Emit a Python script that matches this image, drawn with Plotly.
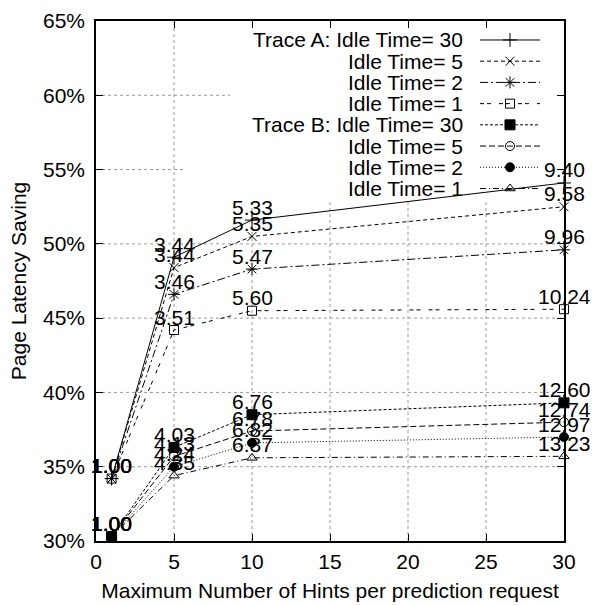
import plotly.graph_objects as go

# ---------------- data ----------------
hints = [1, 5, 10, 30]

traceA_idle30 = [34.2, 49.1, 51.6, 54.1]
traceA_idle5 = [34.2, 48.4, 50.5, 52.5]
traceA_idle2 = [34.2, 46.6, 48.3, 49.6]
traceA_idle1 = [34.2, 44.2, 45.5, 45.6]
traceB_idle30 = [30.3, 36.3, 38.5, 39.3]
traceB_idle5 = [30.3, 35.7, 37.4, 38.0]
traceB_idle2 = [30.3, 35.0, 36.6, 37.0]
traceB_idle1 = [30.3, 34.4, 35.6, 35.7]

labA30 = ["1.00", "3.44", "5.33", "9.40"]
labA5 = ["1.00", "3.44", "5.35", "9.58"]
labA2 = ["1.00", "3.46", "5.47", "9.96"]
labA1 = ["1.00", "3.51", "5.60", "10.24"]
labB30 = ["1.00", "4.03", "6.76", "12.60"]
labB5 = ["1.00", "4.13", "6.78", "12.74"]
labB2 = ["1.00", "4.24", "6.82", "12.97"]
labB1 = ["1.00", "4.35", "6.87", "13.23"]

series_names = [
    "Trace A: Idle Time= 30", "Idle Time= 5", "Idle Time= 2", "Idle Time= 1",
    "Trace B: Idle Time= 30", "Idle Time= 5", "Idle Time= 2", "Idle Time= 1",
]

x_ticks = [0, 5, 10, 15, 20, 25, 30]
y_ticks = [30, 35, 40, 45, 50, 55, 60, 65]
y_tick_text = ["30%", "35%", "40%", "45%", "50%", "55%", "60%", "65%"]

x_title = "Maximum Number of Hints per prediction request"
y_title = "Page Latency Saving"

# ---------------- styles ----------------
FONT = "Liberation Sans, Arial, Helvetica, sans-serif"
FS = 21

values = [traceA_idle30, traceA_idle5, traceA_idle2, traceA_idle1,
          traceB_idle30, traceB_idle5, traceB_idle2, traceB_idle1]
labels = [labA30, labA5, labA2, labA1, labB30, labB5, labB2, labB1]
dashes = ["solid", "4px,3px", "8px,3px,2px,3px", "4px,3px,4px,8px",
          "3px,2px", "6px,3px", "1px,2px", "6px,3px,1px,3px"]
symbols = ["cross-thin-open", "x-thin-open", "asterisk-open", "square-open",
           "square", "circle-open", "circle", "triangle-up-open"]
sizes = [10, 9, 10, 9, 10, 9, 9, 9]

fig = go.Figure()

# grid lines (partially hidden where the key sits)
grid_style = dict(color="#999999", width=1, dash="dot")
y_grid_end = {55: 5.77, 60: 8.6}
for yv in y_ticks[1:-1]:
    fig.add_shape(type="line", xref="x", yref="y", x0=0, x1=y_grid_end.get(yv, 30),
                  y0=yv, y1=yv, line=grid_style, layer="below")
for xv in x_ticks[1:-1]:
    top = 65 if xv == 5 else 52.95
    fig.add_shape(type="line", xref="x", yref="y", x0=xv, x1=xv,
                  y0=30, y1=top, line=grid_style, layer="below")

for vals, labs, dash, sym, sz in zip(values, labels, dashes, symbols, sizes):
    fig.add_trace(go.Scatter(
        x=hints, y=vals, mode="lines+markers", showlegend=False, cliponaxis=False,
        line=dict(color="black", width=1, dash=dash),
        marker=dict(symbol=sym, size=sz, color="black",
                    line=dict(color="black", width=1)),
    ))
    for xv, yv, t in zip(hints, vals, labs):
        fig.add_annotation(x=xv, y=yv, text=t, showarrow=False, yshift=13,
                           font=dict(family=FONT, size=FS, color="black"))

# custom key: right-aligned text, sample line with marker to the right
key_text_x = 0.7885
key_x0, key_xm, key_x1 = 0.8205, 0.8846, 0.9487
key_y0, key_dy = 0.9635, 0.0408
for i, (name, dash, sym, sz) in enumerate(zip(series_names, dashes, symbols, sizes)):
    ry = key_y0 - i * key_dy
    fig.add_trace(go.Scatter(
        x=[key_x0, key_x1], y=[ry, ry], xaxis="x2", yaxis="y2", mode="lines",
        showlegend=False, hoverinfo="skip",
        line=dict(color="black", width=1, dash=dash)))
    fig.add_trace(go.Scatter(
        x=[key_xm], y=[ry], xaxis="x2", yaxis="y2", mode="markers",
        showlegend=False, hoverinfo="skip",
        marker=dict(symbol=sym, size=sz, color="black",
                    line=dict(color="black", width=1))))
    fig.add_annotation(xref="paper", yref="paper", x=key_text_x, y=ry,
                       xanchor="right", yanchor="middle", text=name, showarrow=False,
                       font=dict(family=FONT, size=FS, color="black"))

axis_common = dict(
    showline=True, linecolor="black", linewidth=1.5, mirror="ticks",
    ticks="inside", ticklen=7, tickwidth=1, tickcolor="black",
    showgrid=False, zeroline=False, automargin=False,
    tickfont=dict(family=FONT, size=FS, color="black"),
)

fig.update_layout(
    width=592, height=605,
    margin=dict(l=96, r=28, t=21, b=64),
    paper_bgcolor="white", plot_bgcolor="white",
    font=dict(family=FONT, size=FS, color="black"),
    xaxis=dict(range=[0, 30], tickvals=x_ticks, ticklabelstandoff=1,
               title=dict(text=x_title, standoff=11,
                          font=dict(family=FONT, size=FS, color="black")),
               **axis_common),
    yaxis=dict(range=[30, 65], tickvals=y_ticks, ticktext=y_tick_text,
               ticklabelstandoff=5,
               title=dict(text=y_title, standoff=11,
                          font=dict(family=FONT, size=FS, color="black")),
               **axis_common),
    xaxis2=dict(overlaying="x", range=[0, 1], visible=False),
    yaxis2=dict(overlaying="y", range=[0, 1], visible=False),
)

fig.write_html("out.html",
               config={"displayModeBar": False},
               post_script="document.body.style.margin='0';"
                           "document.body.style.overflow='hidden';")
